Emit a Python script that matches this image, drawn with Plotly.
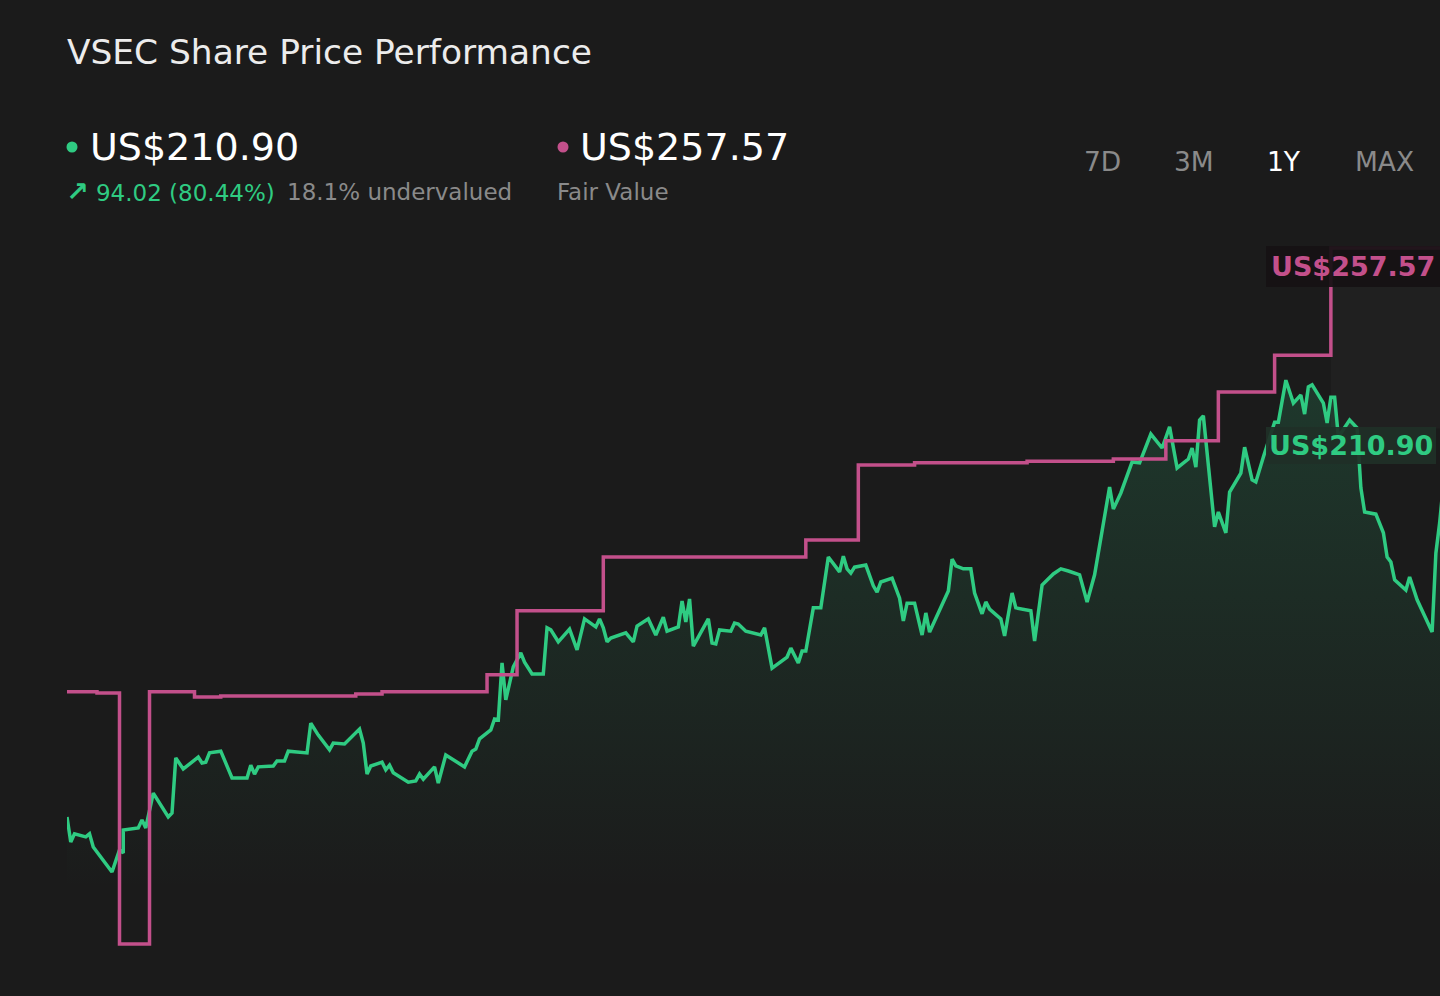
import pandas as pd
import plotly.graph_objects as go

GREEN = "#2fcb82"
PINK = "#c3508b"
BG = "#1b1b1b"
GREY = "#8a8a8a"
FONT = "DejaVu Sans"

start_date = pd.Timestamp("2024-02-12")

# share price: day offset from start_date, price in US$
price_day = [
    0, 1, 2, 5, 6, 7, 12, 14, 15, 15,
    19, 20, 21, 23, 27, 28, 29, 31, 35, 36,
    37, 38, 41, 44, 48, 49, 50, 51, 55, 56,
    58, 59, 64, 65, 67, 70, 71, 74, 78, 79,
    80, 81, 84, 85, 86, 87, 91, 93, 94, 95,
    98, 99, 101, 106, 108, 109, 110, 113, 114, 115,
    116, 117, 119, 121, 122, 124, 127, 128, 129, 131,
    134, 136, 138, 141, 142, 143, 144, 145, 149, 151,
    152, 155, 157, 159, 160, 163, 164, 165, 166, 167,
    171, 172, 173, 174, 177, 178, 179, 181, 185, 186,
    188, 192, 193, 195, 196, 197, 199, 201, 203, 206,
    207, 208, 209, 210, 213, 215, 216, 217, 220, 222,
    223, 224, 226, 228, 229, 230, 235, 236, 237, 239,
    241, 242, 244, 245, 246, 249, 250, 252, 253, 257,
    258, 260, 263, 265, 267, 270, 272, 274, 278, 279,
    281, 284, 286, 289, 292, 294, 296, 299, 300, 301,
    302, 303, 306, 307, 309, 310, 313, 314, 316, 317,
    319, 322, 323, 325, 327, 329, 330, 331, 332, 335,
    336, 337, 338, 339, 342, 344, 345, 346, 349, 351,
    352, 353, 354, 357, 358, 360, 364, 365, 366, 368,
]
price = [
    123.4, 117.5, 119.4, 118.7, 119.4, 116.3, 110.4, 115.6, 114.9, 120.3,
    120.8, 122.7, 120.8, 129.0, 123.4, 124.3, 137.3, 134.7, 137.5, 136.1,
    136.3, 138.5, 138.9, 132.6, 132.6, 135.6, 133.5, 135.2, 135.4, 136.6,
    136.6, 138.9, 138.5, 145.5, 142.7, 139.2, 140.8, 140.6, 144.1, 140.8,
    133.5, 135.4, 136.3, 134.5, 135.6, 133.8, 131.6, 131.9, 133.5, 132.3,
    135.2, 131.4, 138.0, 135.2, 138.9, 139.4, 141.8, 143.9, 146.5, 146.3,
    159.7, 151.0, 158.8, 162.1, 159.9, 157.1, 157.1, 168.0, 167.5, 164.7,
    167.7, 162.8, 170.1, 168.2, 170.1, 168.0, 164.7, 165.6, 166.8, 164.7,
    168.4, 170.1, 166.3, 170.5, 167.2, 168.2, 174.3, 169.4, 174.8, 163.7,
    170.1, 164.4, 164.2, 167.5, 167.2, 169.1, 168.9, 167.2, 166.3, 168.0,
    158.5, 161.1, 163.2, 159.7, 162.5, 162.5, 172.7, 172.7, 184.7, 181.2,
    184.9, 181.9, 180.9, 182.3, 182.8, 177.9, 176.4, 178.8, 179.7, 175.0,
    169.6, 173.8, 173.8, 166.3, 171.5, 167.0, 176.7, 184.2, 182.6, 181.9,
    181.9, 176.2, 171.3, 174.1, 172.4, 170.1, 166.1, 176.2, 172.7, 172.0,
    164.9, 178.1, 180.7, 181.9, 181.4, 180.5, 174.1, 180.5, 201.2, 196.0,
    199.8, 207.1, 206.9, 213.7, 210.4, 215.4, 205.7, 207.8, 210.4, 205.9,
    217.0, 218.0, 191.8, 195.3, 190.4, 200.0, 204.5, 210.6, 202.9, 202.4,
    208.3, 216.5, 216.5, 226.4, 221.0, 222.9, 218.4, 224.8, 225.3, 221.0,
    216.3, 222.4, 222.4, 213.0, 217.0, 215.1, 201.0, 195.3, 194.8, 190.4,
    184.7, 183.5, 179.3, 176.9, 180.0, 174.6, 167.0, 185.6, 192.7, 210.9,
]

# fair value estimate, changes at these days (step line)
fv_day = [0, 8, 14, 22, 34, 41, 77, 84, 112, 120, 143, 197, 211, 226, 256, 279, 293, 307, 322, 337, 368]
fair_value = [152.9, 152.6, 93.4, 152.9, 151.7, 151.9, 152.4, 152.9, 156.9, 172.0, 184.7, 188.7,
              206.4, 206.9, 207.3, 207.8, 212.1, 223.6, 232.3, 257.57, 257.57]

last_price = 210.90
change = 94.02
change_pct = 80.44
fair_value_now = 257.57
undervalued_pct = 18.1
periods = ["7D", "3M", "1Y", "MAX"]
active_period = "1Y"

price_dates = start_date + pd.to_timedelta(price_day, unit="D")
fv_dates = start_date + pd.to_timedelta(fv_day, unit="D")

# plot area in page pixels
L, T, R, B = 67, 230, 0, 36
W, H = 1440, 996
PW, PH = W - L - R, H - T - B


def px_x(px):
    return (px - L) / PW


def px_y(py):
    return (H - B - py) / PH


fig = go.Figure()

fig.add_trace(go.Scatter(
    x=price_dates, y=price, mode="lines",
    line=dict(color=GREEN, width=3.5),
    fill="tozeroy",
    fillgradient=dict(type="vertical", start=106, stop=228,
                      colorscale=[[0, "rgba(47,203,130,0)"], [1, "rgba(47,203,130,0.17)"]]),
    hoverinfo="skip",
))

fig.add_trace(go.Scatter(
    x=fv_dates, y=fair_value, mode="lines",
    line=dict(color=PINK, width=3.5, shape="hv"),
    hoverinfo="skip",
))

# lighter band after the latest fair value update
fig.add_shape(type="rect", xref="x", yref="y",
              x0=fv_dates[-2], x1=fv_dates[-1], y0=215, y1=fair_value_now,
              fillcolor="rgba(255,255,255,0.025)", line_width=0, layer="below")

# end-of-line value labels (boxes sit over the lines)
fig.add_annotation(x=px_x(1266), xref="paper", xanchor="left", y=fair_value_now, yref="y",
                   yshift=-18, text=f"US${fair_value_now:.2f}", showarrow=False,
                   font=dict(family=FONT, size=27, color=PINK, weight="bold"),
                   bgcolor="rgba(21,17,19,0.93)", borderpad=5, borderwidth=0)
fig.add_annotation(x=px_x(1266), xref="paper", xanchor="left", y=last_price, yref="y",
                   text=f"US${last_price:.2f}", showarrow=False,
                   font=dict(family=FONT, size=27, color=GREEN, weight="bold"),
                   bgcolor="rgba(31,47,39,0.93)", borderpad=3, borderwidth=0)

# header: legend-like values
for cx, col in [(72, GREEN), (563, PINK)]:
    fig.add_shape(type="circle", xref="paper", yref="paper",
                  xsizemode="pixel", ysizemode="pixel",
                  xanchor=px_x(cx), yanchor=px_y(147),
                  x0=-5.5, x1=5.5, y0=-5.5, y1=5.5,
                  fillcolor=col, line_width=0)

arrow = '<span style="font-size:27px;font-weight:bold">↗</span>'
header = [
    (88, 147, f"US${last_price:.2f}", 38, "#ffffff"),
    (578, 147, f"US${fair_value_now:.2f}", 38, "#ffffff"),
    (64, 191, f"{arrow} {change:.2f} ({change_pct:.2f}%)", 23, GREEN),
    (285, 192, f"{undervalued_pct}% undervalued", 23, GREY),
    (555, 192, "Fair Value", 23, GREY),
]
for x, y, txt, size, col in header:
    fig.add_annotation(x=px_x(x), y=px_y(y), xref="paper", yref="paper",
                       xanchor="left", yanchor="middle", text=txt, showarrow=False,
                       font=dict(family=FONT, size=size, color=col))

# period selector
for cx, p in zip([1102, 1194, 1284, 1384], periods):
    fig.add_annotation(x=px_x(cx), y=px_y(162), xref="paper", yref="paper",
                       xanchor="center", yanchor="middle", text=p, showarrow=False,
                       font=dict(family=FONT, size=26.5,
                                 color="#ffffff" if p == active_period else GREY))

fig.update_layout(
    width=W, height=H,
    margin=dict(l=L, r=R, t=T, b=B),
    paper_bgcolor=BG, plot_bgcolor=BG,
    showlegend=False,
    title=dict(text="VSEC Share Price Performance", x=L / W, xref="container", xanchor="left",
               y=1 - 52 / H, yref="container", yanchor="middle",
               font=dict(family=FONT, size=34.4, color="#ececec")),
    xaxis=dict(visible=False, range=[start_date, start_date + pd.Timedelta(days=366.1)]),
    yaxis=dict(visible=False, range=[89.65, 261.82]),
)

fig.write_html("out.html", config={"displayModeBar": False},
               post_script="document.body.style.margin='0';document.body.style.background='#1b1b1b';")
